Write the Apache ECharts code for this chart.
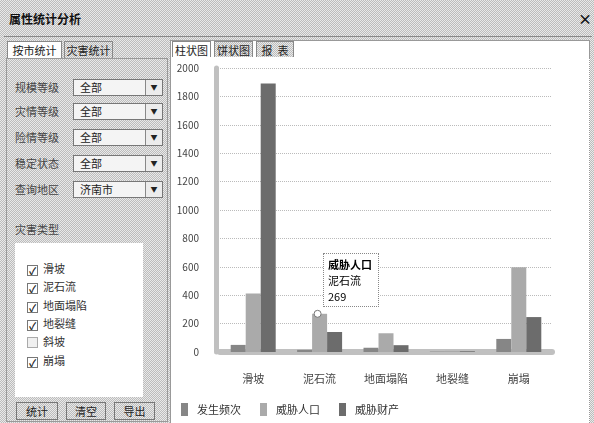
<!DOCTYPE html>
<html><head><meta charset="utf-8">
<script src="https://cdn.jsdelivr.net/npm/echarts@6/dist/echarts.min.js"></script>
<style>
*{box-sizing:border-box;}
html,body{margin:0;padding:0;width:594px;height:423px;overflow:hidden;font-family:"Noto Sans CJK SC","Noto Sans",sans-serif;color:#333;}
.stip{background:repeating-conic-gradient(#bcbcbc 0 25%,#e9e9e9 0 50%) 0 0/2px 2px;}
#win{position:absolute;left:0;top:0;width:594px;height:423px;}
.abs{position:absolute;}
.title{left:9px;top:10px;font-size:12px;font-weight:bold;color:#111;}
.close{left:578px;top:8px;font-size:14px;font-weight:bold;color:#111;}
.tab{position:absolute;height:18px;border:1px solid #888;font-size:11px;line-height:16px;text-align:center;color:#222;}
.tab.on{background:#fff;border-bottom:none;}
.panel{border:1px solid #999;}
.lbl{position:absolute;left:15px;font-size:11px;color:#444;line-height:14px;}
.sel{position:absolute;left:73px;width:90px;height:17px;background:#f4f4f4;border:1px solid #777;font-size:11px;line-height:15px;padding-left:6px;color:#222;}
.sel .arr{position:absolute;right:0;top:0;width:17px;height:15px;border-left:1px solid #888;background:#ececec;font-size:7px;text-align:center;line-height:15px;}
.chk{position:absolute;left:27px;font-size:11px;line-height:12px;color:#333;}
.chk span.b{display:inline-block;width:11px;height:11px;border:1px solid #777;background:#fff;vertical-align:-2px;margin-right:5px;font-size:10px;line-height:9px;text-align:center;font-weight:bold;color:#222;}
.btn{position:absolute;top:402px;height:18px;border:1px solid #777;font-size:11px;line-height:16px;text-align:center;color:#222;}
#chart{position:absolute;left:0;top:0;width:594px;height:423px;}
</style></head>
<body>
<div id="win" class="stip">
  <div class="abs title">属性统计分析</div>
  <div class="abs close">×</div>
  <div class="abs" style="left:4px;top:36px;width:588px;height:1px;background:#888;"></div>
  <!-- left tabs -->
  <div class="tab on" style="left:7px;top:41px;width:55px;">按市统计</div>
  <div class="tab stip" style="left:64px;top:41px;width:49px;">灾害统计</div>
  <div class="abs panel stip" style="left:6px;top:58px;width:162px;height:364px;"></div>
  <div class="lbl" style="top:80px;">规模等级</div>
  <div class="sel" style="top:79px;">全部<div class="arr">▼</div></div>
  <div class="lbl" style="top:104px;">灾情等级</div>
  <div class="sel" style="top:103px;">全部<div class="arr">▼</div></div>
  <div class="lbl" style="top:130px;">险情等级</div>
  <div class="sel" style="top:129px;">全部<div class="arr">▼</div></div>
  <div class="lbl" style="top:156px;">稳定状态</div>
  <div class="sel" style="top:155px;">全部<div class="arr">▼</div></div>
  <div class="lbl" style="top:182px;">查询地区</div>
  <div class="sel" style="top:181px;">济南市<div class="arr">▼</div></div>
  <div class="lbl" style="top:222px;">灾害类型</div>
  <div class="abs" style="left:15px;top:243px;width:128px;height:154px;background:#fff;"></div>
  <div class="chk" style="top:262px;"><span class="b">✓</span>滑坡</div>
  <div class="chk" style="top:280px;"><span class="b">✓</span>泥石流</div>
  <div class="chk" style="top:299px;"><span class="b">✓</span>地面塌陷</div>
  <div class="chk" style="top:317px;"><span class="b">✓</span>地裂缝</div>
  <div class="chk" style="top:335px;"><span class="b" style="background:#f0f0f0;border-color:#aaa;"></span>斜坡</div>
  <div class="chk" style="top:354px;"><span class="b">✓</span>崩塌</div>
  <div class="btn stip" style="left:16px;width:42px;">统计</div>
  <div class="btn stip" style="left:66px;width:40px;">清空</div>
  <div class="btn stip" style="left:114px;width:41px;">导出</div>
  <!-- right tabs -->
  <div class="abs" style="left:170px;top:40px;width:420px;height:18px;background:#fff;border:1px solid #999;"></div>
  <div class="tab on" style="left:172px;top:41px;width:39px;">柱状图</div>
  <div class="tab stip" style="left:214px;top:41px;width:39px;">饼状图</div>
  <div class="tab stip" style="left:256px;top:41px;width:38px;">报&nbsp;&nbsp;表</div>
  <div class="abs" style="left:170px;top:57px;width:420px;height:366px;background:#fff;border-left:1px solid #999;border-right:1px dotted #999;"></div>
</div>
<div id="chart"></div>
<script>
var categories = ['滑坡', '泥石流', '地面塌陷', '地裂缝', '崩塌'];
var seriesNames = ['发生频次', '威胁人口', '威胁财产'];
var freqValues = [50, 15, 30, 3, 92];
var popValues = [412, 269, 132, 8, 596];
var propValues = [1890, 141, 48, 5, 246];
var yTicks = { min: 0, max: 2000, interval: 200 };
var tipSeries = 1, tipIndex = 1;

var chart = echarts.init(document.getElementById('chart'), null, { renderer: 'canvas' });
var colors = ['#868686', '#aaaaaa', '#6c6c6c'];
var fontFam = '"Noto Sans CJK SC", sans-serif';
var datasets = [freqValues, popValues, propValues];
var series = datasets.map(function (d, i) {
  var s = {
    name: seriesNames[i], type: 'bar', data: d, barWidth: 15, barGap: '0%',
    itemStyle: { color: colors[i] }, emphasis: { disabled: true }
  };
  if (i === tipSeries) {
    s.markPoint = {
      silent: true, symbol: 'circle', symbolSize: 7, symbolOffset: [-2, 0],
      itemStyle: { color: '#fff', borderColor: '#777', borderWidth: 1 },
      label: { show: false },
      data: [{ coord: [categories[tipIndex], d[tipIndex]] }]
    };
  }
  return s;
});
chart.setOption({
  animation: false,
  color: colors,
  grid: { left: 220, right: 42, top: 68, bottom: 71 },
  tooltip: {
    trigger: 'item', triggerOn: 'none', alwaysShowContent: true, transitionDuration: 0,
    position: [323, 253], backgroundColor: '#fff', borderColor: '#888', borderWidth: 1,
    padding: [2, 4], extraCssText: 'border-style:dotted;border-radius:0;box-shadow:none;',
    textStyle: { fontSize: 11, color: '#000', fontFamily: fontFam },
    formatter: function (p) {
      return '<div style="line-height:16px;width:46px"><b>' + p.seriesName + '</b><br/>' + p.name + '<br/>' + p.value + '</div>';
    }
  },
  legend: {
    left: 176, top: 398, itemWidth: 7, itemHeight: 13, itemGap: 19, icon: 'rect',
    textStyle: { fontSize: 11, color: '#333', fontFamily: fontFam, padding: [0, 0, 0, 4] },
    data: seriesNames
  },
  xAxis: {
    type: 'category', data: categories, offset: 3,
    axisLine: { lineStyle: { color: '#c0c0c0', width: 6 } },
    axisTick: { show: false },
    axisLabel: { fontSize: 11, color: '#444', margin: 18, fontFamily: fontFam }
  },
  yAxis: {
    type: 'value', min: yTicks.min, max: yTicks.max, interval: yTicks.interval, offset: 4,
    axisLine: { show: true, lineStyle: { color: '#c0c0c0', width: 5 } },
    axisTick: { show: false },
    axisLabel: { fontSize: 10, color: '#444', margin: 17, fontFamily: fontFam,
      formatter: function (v) { return String(v); } },
    splitLine: { lineStyle: { color: '#bbb', type: 'dotted', width: 1 } }
  },
  series: series
});
chart.dispatchAction({ type: 'showTip', seriesIndex: tipSeries, dataIndex: tipIndex });
</script>
</body></html>
